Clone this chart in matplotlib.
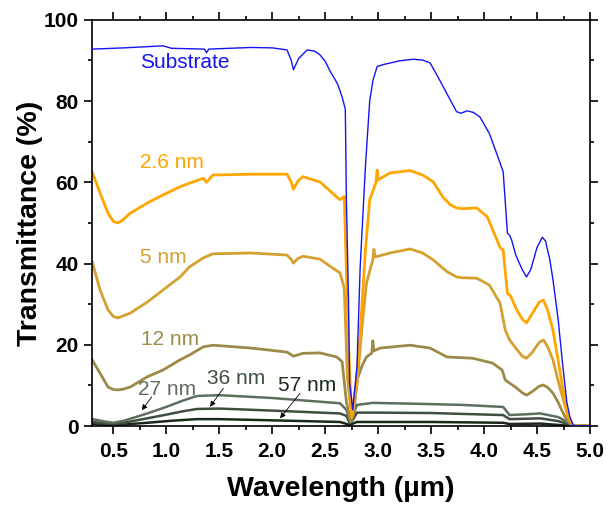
import matplotlib
matplotlib.use("Agg")
import matplotlib.pyplot as plt
from matplotlib.ticker import MultipleLocator

plt.rcParams['font.family'] = ['Liberation Sans', 'DejaVu Sans']

# --- data (wavelength um, transmittance %) ---
sub_x = [0.30, 0.60, 0.97, 1.05, 1.20, 1.36, 1.38, 1.40, 1.60, 1.80, 2.00, 2.14, 2.18, 2.20,
         2.25, 2.33, 2.40, 2.45, 2.50, 2.55, 2.60, 2.62, 2.66, 2.69, 2.70, 2.72, 2.73, 2.76,
         2.80, 2.83, 2.88, 2.92, 2.95, 2.99, 3.05, 3.20, 3.33, 3.42, 3.49, 3.58, 3.68, 3.74,
         3.78, 3.84, 3.90, 3.96, 4.05, 4.12, 4.18, 4.22, 4.24, 4.26, 4.30, 4.36, 4.40, 4.44,
         4.50, 4.55, 4.58, 4.62, 4.65, 4.70, 4.74, 4.78, 4.81, 4.84, 4.90, 5.00]
sub_y = [92.8, 93.1, 93.6, 93.0, 92.9, 92.8, 91.9, 92.8, 93.0, 93.2, 93.1, 92.6, 90.0, 87.7,
         90.5, 92.6, 92.3, 91.4, 89.8, 87.2, 85.0, 84.0, 81.0, 78.0, 55.7, 31.0, 10.6, 4.0,
         14.5, 39.0, 64.0, 80.0, 85.0, 88.5, 89.0, 89.9, 90.3, 90.1, 89.4, 85.2, 80.3, 77.4,
         77.0, 77.6, 77.2, 76.1, 72.0, 67.0, 62.6, 47.5, 47.0, 45.8, 42.0, 38.5, 36.7, 38.5,
         44.0, 46.5, 45.5, 41.0, 36.0, 26.0, 15.5, 6.0, 2.2, 0.2, 0.0, 0.0]

nm26_x = [0.30, 0.375, 0.45, 0.50, 0.54, 0.58, 0.66, 0.82, 0.97, 1.13, 1.22, 1.35, 1.38, 1.44,
          1.80, 2.14, 2.18, 2.20, 2.24, 2.29, 2.45, 2.57, 2.64, 2.68, 2.69, 2.72, 2.75, 2.79,
          2.83, 2.88, 2.92, 2.98, 2.99, 3.00, 3.11, 3.30, 3.42, 3.52, 3.61, 3.68, 3.74, 3.80,
          3.93, 4.03, 4.15, 4.18, 4.22, 4.25, 4.30, 4.36, 4.40, 4.45, 4.52, 4.56, 4.60, 4.65,
          4.70, 4.73, 4.77, 4.79, 4.84, 4.90, 5.00]
nm26_y = [62.6, 57.4, 52.4, 50.4, 50.0, 50.5, 52.4, 54.9, 56.9, 58.9, 59.8, 61.0, 60.0, 61.8,
          62.0, 62.0, 60.0, 58.3, 60.2, 61.4, 60.1, 57.3, 55.7, 56.5, 47.5, 20.0, 2.3, 10.0,
          22.8, 43.3, 55.7, 60.0, 63.0, 60.6, 62.3, 62.9, 61.8, 60.1, 56.4, 54.5, 53.7, 53.5,
          53.7, 51.5, 44.0, 43.3, 32.7, 32.0, 29.0, 26.3, 25.4, 27.5, 30.5, 31.0, 28.5, 23.6,
          16.0, 11.3, 5.0, 2.3, 0.2, 0.0, 0.0]

nm5_x = [0.30, 0.375, 0.45, 0.50, 0.54, 0.58, 0.66, 0.82, 0.97, 1.13, 1.22, 1.35, 1.44, 1.80,
         2.14, 2.18, 2.20, 2.24, 2.29, 2.45, 2.57, 2.64, 2.68, 2.71, 2.75, 2.80, 2.85, 2.89,
         2.95, 2.96, 2.97, 3.11, 3.30, 3.42, 3.52, 3.65, 3.74, 3.80, 3.93, 4.05, 4.15, 4.20,
         4.24, 4.32, 4.36, 4.40, 4.45, 4.52, 4.56, 4.60, 4.65, 4.70, 4.74, 4.78, 4.81, 4.84,
         4.90, 5.00]
nm5_y = [40.5, 33.5, 28.6, 27.0, 26.6, 27.0, 27.8, 30.5, 33.5, 36.7, 39.2, 41.4, 42.4, 42.6,
         42.1, 41.0, 40.1, 41.2, 41.8, 41.1, 38.9, 37.7, 34.0, 12.0, 2.0, 10.0, 25.0, 35.2,
         41.0, 43.5, 41.6, 42.6, 43.6, 42.6, 40.9, 38.0, 36.7, 36.5, 36.4, 34.7, 30.3, 23.6,
         21.2, 18.5, 17.2, 16.7, 18.0, 20.6, 21.2, 19.5, 16.3, 11.0, 7.2, 3.5, 1.5, 0.2,
         0.0, 0.0]

nm12_x = [0.30, 0.375, 0.45, 0.50, 0.54, 0.58, 0.66, 0.82, 0.97, 1.13, 1.22, 1.35, 1.44, 1.80,
          2.14, 2.20, 2.29, 2.45, 2.61, 2.66, 2.70, 2.74, 2.77, 2.80, 2.85, 2.89, 2.94, 2.95,
          2.96, 3.02, 3.30, 3.49, 3.65, 3.89, 4.08, 4.17, 4.20, 4.30, 4.36, 4.40, 4.45, 4.52,
          4.56, 4.60, 4.65, 4.70, 4.74, 4.78, 4.82, 4.90, 5.00]
nm12_y = [16.3, 13.0, 9.6, 9.0, 8.9, 9.0, 9.6, 12.1, 13.8, 16.3, 17.5, 19.5, 19.9, 19.2,
          18.2, 17.2, 17.9, 18.0, 17.0, 15.8, 6.0, 1.0, 3.0, 11.3, 15.0, 17.0, 18.0, 21.0,
          18.5, 19.2, 19.9, 19.2, 17.0, 16.7, 15.5, 13.8, 11.3, 9.5, 8.2, 7.6, 8.4, 9.8,
          10.1, 9.5, 8.1, 5.8, 3.5, 1.5, 0.2, 0.0, 0.0]

nm27_x = [0.30, 0.40, 0.50, 0.60, 0.82, 1.00, 1.15, 1.29, 1.50, 2.00, 2.64, 2.70, 2.73, 2.76,
          2.80, 2.95, 3.33, 3.80, 4.18, 4.24, 4.40, 4.53, 4.70, 4.84, 5.00]
nm27_y = [1.7, 1.2, 0.8, 1.3, 3.1, 4.7, 6.2, 7.4, 7.6, 6.9, 5.6, 4.0, 1.5, 2.5,
          5.2, 5.7, 5.5, 5.2, 4.7, 2.7, 2.9, 3.1, 2.2, 0.2, 0.0]

nm36_x = [0.30, 0.40, 0.50, 0.60, 0.82, 1.00, 1.15, 1.29, 1.50, 2.00, 2.64, 2.70, 2.73, 2.76,
          2.80, 3.00, 3.50, 4.18, 4.24, 4.40, 4.53, 4.70, 4.84, 5.00]
nm36_y = [1.0, 0.7, 0.5, 0.8, 1.9, 2.8, 3.6, 4.2, 4.3, 3.8, 3.1, 2.5, 0.8, 1.5,
          3.3, 3.3, 3.2, 2.7, 1.7, 1.8, 1.9, 1.2, 0.1, 0.0]

nm57_x = [0.30, 0.50, 0.82, 1.05, 1.29, 1.50, 2.00, 2.64, 2.73, 2.80, 3.00, 3.50, 4.18, 4.24,
          4.53, 4.84, 5.00]
nm57_y = [0.5, 0.2, 0.8, 1.3, 1.7, 1.7, 1.4, 1.0, 0.3, 1.0, 1.0, 1.0, 0.8, 0.5,
          0.6, 0.0, 0.0]

series = [
    (sub_x, sub_y, "#1414F5", 1.0),
    (nm57_x, nm57_y, "#1A2A1A", 1.8),
    (nm36_x, nm36_y, "#3F4F3F", 1.8),
    (nm27_x, nm27_y, "#5F6F5F", 1.8),
    (nm12_x, nm12_y, "#9C8A48", 2.0),
    (nm5_x, nm5_y, "#D4A030", 2.0),
    (nm26_x, nm26_y, "#FFA500", 2.0),
]

fig = plt.figure(figsize=(6.14, 5.09), dpi=100)
ax = fig.add_axes([0.150, 0.163, 0.811, 0.798])

for xs, ys, c, lw in series[1:]:
    ax.plot(xs, ys, color=c, lw=lw, solid_joinstyle="round")
# substrate on top
ax.plot(sub_x, sub_y, color=series[0][2], lw=series[0][3], zorder=5)

ax.set_xlim(0.3, 5.0)
ax.set_ylim(0, 100)
ax.xaxis.set_minor_locator(MultipleLocator(0.25))
ax.yaxis.set_major_locator(MultipleLocator(20))
ax.yaxis.set_minor_locator(MultipleLocator(10))
ax.set_xticks([0.5, 1.0, 1.5, 2.0, 2.5, 3.0, 3.5, 4.0, 4.5, 5.0])

ax.tick_params(which="both", direction="out", top=True, right=True, width=1.2)
ax.tick_params(which="major", length=5.5, labelsize=15, pad=4)
ax.tick_params(which="minor", length=3)
ax.tick_params(axis="x", which="major", pad=6)
ax.tick_params(labeltop=False, labelright=False)
for lab in ax.get_xticklabels() + ax.get_yticklabels():
    lab.set_fontweight("bold")
for sp in ax.spines.values():
    sp.set_linewidth(1.2)

ax.set_xlabel("Wavelength (µm)", fontsize=20.5, fontweight="bold", labelpad=11)
ax.set_ylabel("Transmittance (%)", fontsize=20.5, fontweight="bold", labelpad=1)

fs = 15
ax.text(0.75, 89.4, "Substrate", color="#1414F5", fontsize=fs, va="center")
ax.text(0.75, 65.0, "2.6 nm", color="#FFA500", fontsize=fs, va="center")
ax.text(0.75, 41.6, "5 nm", color="#D4A030", fontsize=fs, va="center")
ax.text(0.76, 21.2, "12 nm", color="#9C8A48", fontsize=fs, va="center")
ax.text(0.73, 9.0, "27 nm", color="#5F6F5F", fontsize=fs, va="center")
ax.text(1.38, 11.6, "36 nm", color="#3F4F3F", fontsize=fs, va="center")
ax.text(2.05, 9.9, "57 nm", color="#1A2A1A", fontsize=fs, va="center")

arrow = dict(arrowstyle="-|>", color="black", lw=0.6, mutation_scale=8, shrinkA=0, shrinkB=0)
ax.annotate("", xy=(0.769, 3.9), xytext=(0.863, 7.2), arrowprops=arrow)
ax.annotate("", xy=(1.413, 4.75), xytext=(1.539, 9.3), arrowprops=arrow)
ax.annotate("", xy=(2.074, 1.9), xytext=(2.262, 8.05), arrowprops=arrow)

fig.savefig("out.png", dpi=100)
